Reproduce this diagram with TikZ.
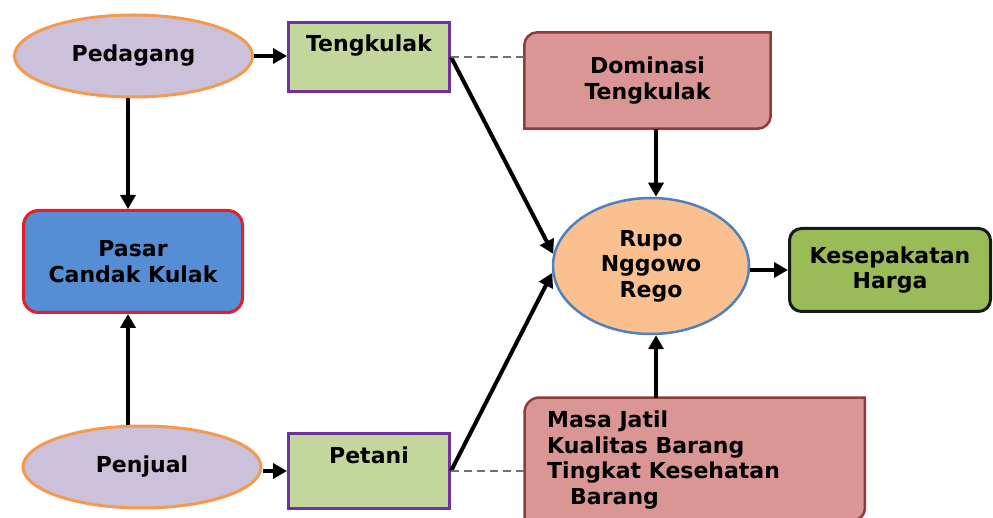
\documentclass[tikz,border=0pt]{standalone}
\usepackage{fontspec}
\setmainfont{DejaVu Sans}
\usetikzlibrary{arrows.meta,shapes.geometric,calc,backgrounds}

\definecolor{lav}{HTML}{CCC1DA}
\definecolor{orng}{HTML}{F39A4E}
\definecolor{lgreen}{HTML}{C3D69B}
\definecolor{purp}{HTML}{7030A0}
\definecolor{mblue}{HTML}{558ED5}
\definecolor{mred}{HTML}{E2202A}
\definecolor{peach}{HTML}{FAC090}
\definecolor{sblue}{HTML}{4F81BD}
\definecolor{ogreen}{HTML}{9BBB59}
\definecolor{rose}{HTML}{D99694}
\definecolor{maroon}{HTML}{8E3B39}
\definecolor{linkgray}{HTML}{707070}

\begin{document}
\begin{tikzpicture}[x=1pt,y=-1pt,
  lbl/.style={font=\fontsize{22}{25.5}\selectfont\bfseries, text=black, inner sep=0pt, align=center},
  actor/.style={lbl, ellipse, fill=lav, draw=orng, line width=3pt, minimum width=238pt, minimum height=82pt},
  agent/.style={lbl, rectangle, fill=lgreen, draw=purp, line width=3pt, minimum width=161pt, text height=29.5pt},
  market/.style={lbl, rectangle, rounded corners=15pt, fill=mblue, draw=mred, line width=3pt, minimum width=219pt, minimum height=102pt},
  hub/.style={lbl, ellipse, fill=peach, draw=sblue, line width=2.5pt, minimum width=196pt, minimum height=136pt},
  result/.style={lbl, rectangle, rounded corners=12pt, fill=ogreen, draw=black!90, line width=3pt, minimum width=201pt, minimum height=83pt},
  factorbox/.style={fill=rose, draw=maroon, line width=2.5pt},
  arr/.style={line width=4pt, -{Triangle[length=14pt,width=15pt]}},
  link/.style={draw=linkgray, line width=2pt, dash pattern=on 8pt off 5pt},
]
\useasboundingbox (0,0) rectangle (993,518);

% actors and their roles
\node[actor] (P) at (133.5,56) {Pedagang};
\node[actor] (J) at (142,467) {Penjual};
\node[agent, text depth=39.5pt] (T) at (369,57) {Tengkulak};
\node[agent, text depth=45.5pt] (N) at (369,471) {Petani};
\node[market] (C) at (133,261.5) {Pasar\\Candak Kulak};

% bargaining and its outcome
\node[hub] (R) at (651,266) {Rupo\\Nggowo\\Rego};
\node[result] (K) at (890,270) {Kesepakatan\\Harga};

% influencing factors (boxes with two rounded corners)
\node[lbl, minimum width=246pt, minimum height=96pt] (D) at (647.5,80.5) {Dominasi\\Tengkulak};
\node[inner sep=0pt, minimum width=340pt, minimum height=122.5pt, anchor=north west] (M) at (524.5,397.5) {};
\node[lbl, align=left, anchor=north west] (Mt) at (547,411)
  {Masa Jatil\\Kualitas Barang\\Tingkat Kesehatan\\\hspace*{23pt}Barang};

\begin{scope}[on background layer]
  \path[factorbox] (D.south west) -- ($(D.north west)+(0,13)$)
    arc[start angle=180,end angle=270,radius=13] -- (D.north east)
    -- ($(D.south east)+(0,-13)$) arc[start angle=0,end angle=90,radius=13] -- cycle;
  \path[factorbox] (M.south west) -- ($(M.north west)+(0,15)$)
    arc[start angle=180,end angle=270,radius=15] -- (M.north east)
    -- ($(M.south east)+(0,-12)$) arc[start angle=0,end angle=90,radius=12] -- cycle;
\end{scope}

% connectors
\coordinate (xa) at (128,0);
\coordinate (xb) at (656,0);
\draw[arr] (P.east) -- (P.east -| T.west);
\draw[arr] (N.west -| J.east) -- (N.west);
\draw[arr] (P.south -| xa) -- (C.north -| xa);
\draw[arr] (J.north -| xa) -- (C.south -| xa);
\draw[arr] (T.east) -- (R.173);
\draw[arr] (N.east) -- (R.184);
\draw[arr] (D.south -| xb) -- (R.north -| xb);
\draw[arr] (M.north -| xb) -- (R.south -| xb);
\draw[arr] (K.west -| R.east) -- (K.west);
\draw[link] (T.east) -- (T.east -| D.west);
\draw[link] (N.east) -- (N.east -| M.west);
\end{tikzpicture}
\end{document}
